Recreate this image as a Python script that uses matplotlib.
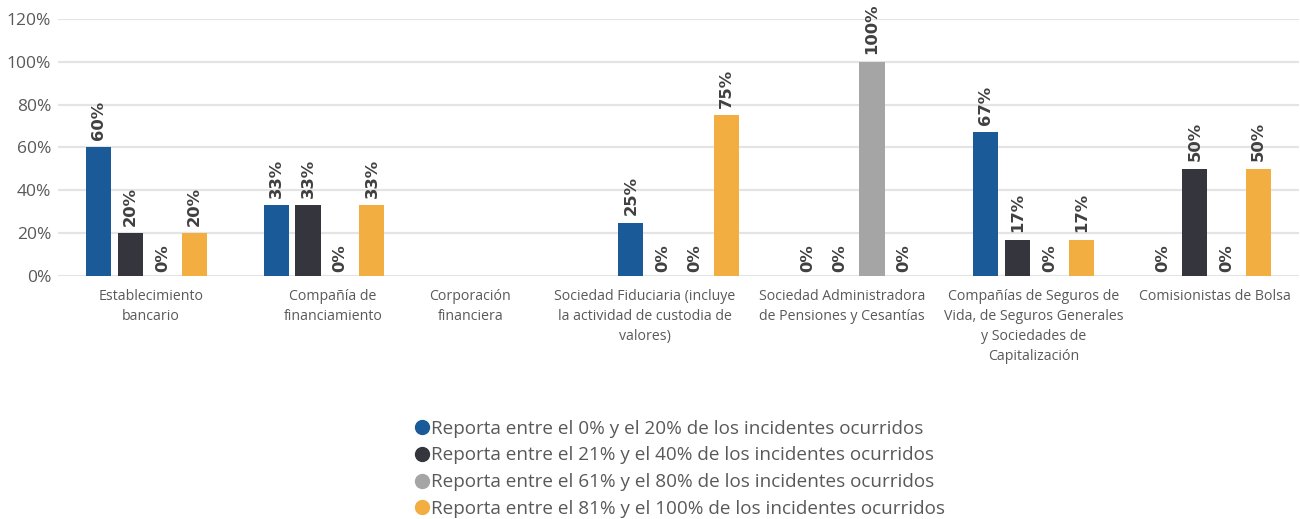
import numpy as np
import matplotlib.pyplot as plt
import matplotlib.transforms as mtransforms
from matplotlib.lines import Line2D

# Categories and series (NaN = no data reported)
categories = [
    "Establecimiento\nbancario",
    "Compañía de\nfinanciamiento",
    "Corporación\nfinanciera",
    "Sociedad Fiduciaria (incluye\nla actividad de custodia de\nvalores)",
    "Sociedad Administradora\nde Pensiones y Cesantías",
    "Compañías de Seguros de\nVida, de Seguros Generales\ny Sociedades de\nCapitalización",
    "Comisionistas de Bolsa",
]
series_names = [
    "Reporta entre el 0% y el 20% de los incidentes ocurridos",
    "Reporta entre el 21% y el 40% de los incidentes ocurridos",
    "Reporta entre el 61% y el 80% de los incidentes ocurridos",
    "Reporta entre el 81% y el 100% de los incidentes ocurridos",
]
r_0_20 = [60, 33, np.nan, 25, 0, 67, 0]
r_21_40 = [20, 33, np.nan, 0, 0, 17, 50]
r_61_80 = [0, 0, np.nan, 0, 100, 0, 0]
r_81_100 = [20, 33, np.nan, 75, 0, 17, 50]
series = [r_0_20, r_21_40, r_61_80, r_81_100]
colors = ["#1b5a98", "#35353d", "#a5a5a5", "#f2ae40"]

# horizontal nudge of each category label, in pixels
label_shift = [4, 9, -31, -34, -14, 0, 4]

plt.rcParams['font.family'] = ['Open Sans', 'DejaVu Sans']

fig = plt.figure(figsize=(13, 5.19), dpi=100)
ax = fig.add_axes([0.0446, 0.468, 0.955, 0.4956])

x = np.arange(len(categories))
width = 0.142
step = 0.18
for i, (vals, c, name) in enumerate(zip(series, colors, series_names)):
    vals = np.array(vals, dtype=float) / 100
    pos = x + (i - 1.5) * step
    ax.bar(pos, vals, width=width, color=c, label=name, zorder=3)
    for p, v in zip(pos, vals):
        if np.isnan(v):
            continue
        ax.annotate(f"{v * 100:.0f}%", (p, v), xytext=(0, 5.5 if v > 0 else 3),
                    textcoords='offset points', rotation=90, ha='center', va='bottom',
                    fontsize=11.8, fontweight='bold', color='#404040', family='DejaVu Sans')

ax.set_xlim(-0.5, len(categories) - 0.5)
ax.set_ylim(0, 1.2)
ax.set_yticks(np.arange(0, 1.21, 0.2))
ax.set_yticklabels([f"{t:.0f}%" for t in np.arange(0, 121, 20)], fontsize=12.5, color='#595959')
ax.set_xticks([])

# category labels under each group
base = ax.get_xaxis_transform()
for xi, text, dx in zip(x, categories, label_shift):
    tr = mtransforms.offset_copy(base, fig=fig, x=dx, y=-13, units='dots')
    ax.text(xi, 0, text, transform=tr, ha='center', va='top', fontsize=10.2,
            color='#595959', linespacing=1.45, multialignment='center')

ax.tick_params(axis='both', length=0)
ax.tick_params(axis='y', pad=5)
ax.grid(axis='y', color='#e4e4e4', linewidth=1.6, zorder=0)
ax.set_axisbelow(True)
for s in ax.spines.values():
    s.set_visible(False)

_, labels = ax.get_legend_handles_labels()
handles = [Line2D([], [], marker='o', linestyle='', markersize=10, color=c) for c in colors]
fig.legend(handles, labels, loc='upper center', bbox_to_anchor=(0.5223, 0.206), frameon=False,
           fontsize=13.6, labelcolor='#595959', handletextpad=0.0, labelspacing=0.465,
           handlelength=1.0, borderaxespad=0)

fig.savefig("out.png", dpi=100)
